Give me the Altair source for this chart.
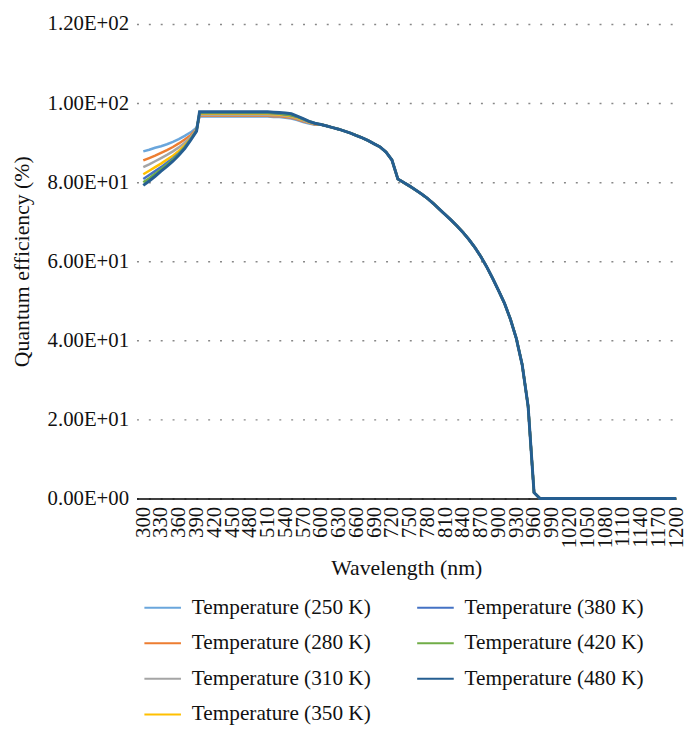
import altair as alt
import pandas as pd

# Wavelengths (nm) for the temperature-dependent part of the curves
wl_head = [300, 310, 320, 330, 340, 350, 360, 370, 380, 390, 395,
           400, 410, 420, 430, 440, 450, 460, 470, 480, 490,
           500, 510, 520, 530, 540, 550, 560, 570, 580, 590]

qe_250 = [87.8, 88.2, 88.7, 89.1, 89.6, 90.2, 90.9, 91.7, 92.6, 93.8, 96.6,
          96.6, 96.6, 96.6, 96.6, 96.6, 96.6, 96.6, 96.6, 96.6, 96.6,
          96.6, 96.6, 96.5, 96.5, 96.3, 96.1, 95.7, 95.2, 94.8, 94.5]
qe_280 = [85.5, 86.1, 86.7, 87.4, 88.1, 88.9, 89.8, 90.8, 91.9, 93.4, 96.8,
          96.8, 96.8, 96.8, 96.8, 96.8, 96.8, 96.8, 96.8, 96.8, 96.8,
          96.8, 96.8, 96.7, 96.7, 96.5, 96.3, 95.9, 95.4, 95.0, 94.6]
qe_310 = [83.8, 84.5, 85.3, 86.1, 86.9, 87.8, 88.8, 90.0, 91.4, 93.3, 97.0,
          97.0, 97.0, 97.0, 97.0, 97.0, 97.0, 97.0, 97.0, 97.0, 97.0,
          97.0, 97.0, 96.9, 96.9, 96.7, 96.5, 96.1, 95.6, 95.1, 94.7]
qe_350 = [82.0, 82.9, 83.8, 84.7, 85.7, 86.7, 87.9, 89.3, 91.0, 93.2, 97.3,
          97.3, 97.3, 97.3, 97.3, 97.3, 97.3, 97.3, 97.3, 97.3, 97.3,
          97.3, 97.3, 97.2, 97.1, 96.9, 96.7, 96.3, 95.8, 95.2, 94.8]
qe_380 = [80.8, 81.8, 82.8, 83.8, 84.9, 86.0, 87.3, 88.9, 90.9, 93.1, 97.5,
          97.5, 97.5, 97.5, 97.5, 97.5, 97.5, 97.5, 97.5, 97.5, 97.5,
          97.5, 97.5, 97.4, 97.3, 97.1, 96.9, 96.5, 95.9, 95.3, 94.8]
qe_420 = [80.0, 81.0, 82.1, 83.3, 84.5, 85.7, 87.1, 88.8, 90.8, 93.0, 97.6,
          97.6, 97.6, 97.6, 97.6, 97.6, 97.6, 97.6, 97.6, 97.6, 97.6,
          97.6, 97.6, 97.5, 97.4, 97.2, 97.0, 96.6, 96.0, 95.4, 94.9]
qe_480 = [79.2, 80.3, 81.5, 82.8, 84.0, 85.3, 86.8, 88.5, 90.6, 92.9, 97.8,
          97.8, 97.8, 97.8, 97.8, 97.8, 97.8, 97.8, 97.8, 97.8, 97.8,
          97.8, 97.8, 97.7, 97.6, 97.5, 97.3, 96.7, 96.1, 95.4, 94.9]

# Common tail (all temperatures overlap), 600..1200 nm
wl_tail = list(range(600, 1201, 10))
qe_tail = [94.6, 94.2, 93.8, 93.4, 92.9, 92.4, 91.8, 91.2, 90.5, 89.7,
           88.9, 87.6, 85.6, 80.8, 79.9, 79.0, 78.0, 77.0, 75.9, 74.6,
           73.2, 71.8, 70.4, 68.9, 67.3, 65.5, 63.5, 61.2, 58.6, 55.7,
           52.6, 49.4, 45.4, 40.5, 33.8, 23.3, 1.5,
           0, 0, 0, 0, 0, 0, 0, 0, 0, 0, 0, 0,
           0, 0, 0, 0, 0, 0, 0, 0, 0, 0, 0, 0]

series_names = ["Temperature (250 K)", "Temperature (280 K)", "Temperature (310 K)",
                "Temperature (350 K)", "Temperature (380 K)", "Temperature (420 K)",
                "Temperature (480 K)"]
series_vals = [qe_250, qe_280, qe_310, qe_350, qe_380, qe_420, qe_480]
series_colors = ["#6AA6DC", "#ED7D31", "#A5A5A5", "#FFC000", "#4472C4", "#70AD47", "#255E91"]
series_widths = [2.5, 2.5, 2.5, 2.5, 2.5, 2.5, 3]

rows = []
for name, vals in zip(series_names, series_vals):
    for w, v in zip(wl_head + wl_tail, vals + qe_tail):
        rows.append({"series": name, "wl": w, "qe": v})
df = pd.DataFrame(rows)

font = "Liberation Serif, Times New Roman, DejaVu Serif, serif"

color_scale = alt.Scale(domain=series_names, range=series_colors)

y_label_expr = ("datum.value == 0 ? '0.00E+00' : datum.value >= 100 ? "
                "format(datum.value/100, '.2f') + 'E+02' : format(datum.value/10, '.2f') + 'E+01'")

enc = dict(
    x=alt.X("wl:Q", title="Wavelength (nm)",
            scale=alt.Scale(domain=[288.5, 1200], nice=False, zero=False),
            axis=alt.Axis(values=list(range(300, 1201, 30)), format="d",
                          labelAngle=270, labelAlign="right", labelBaseline="middle",
                          labelPadding=8, ticks=False, grid=False, labelFlush=False,
                          domainColor="#000000", domainWidth=1.5,
                          labelFont=font, labelFontSize=21, labelColor="#111111",
                          titleFont=font, titleFontSize=22, titleFontWeight="normal",
                          titleColor="#111111", titlePadding=10, labelOverlap=False)),
    y=alt.Y("qe:Q", title="Quantum efficiency (%)",
            scale=alt.Scale(domain=[0, 120], nice=False),
            axis=alt.Axis(values=[0, 20, 40, 60, 80, 100, 120], labelExpr=y_label_expr,
                          domain=False, ticks=False, grid=True,
                          gridColor="#888888", gridDash=[2, 10], gridWidth=1.5,
                          labelPadding=8, labelFont=font, labelFontSize=21,
                          labelColor="#111111", titleFont=font, titleFontSize=22,
                          titleFontWeight="normal", titleColor="#111111", titlePadding=14)),
    color=alt.Color("series:N", scale=color_scale,
                    legend=alt.Legend(title=None, orient="none", legendX=7, legendY=571,
                                      columns=2, symbolType="stroke", symbolSize=1369,
                                      symbolStrokeWidth=2, labelOffset=10,
                                      labelFont=font, labelFontSize=21.5, labelColor="#111111",
                                      columnPadding=42, rowPadding=6, labelLimit=300)),
)

layers = [
    alt.Chart(df).mark_line(strokeWidth=sw).encode(**enc).transform_filter(alt.datum.series == name)
    for name, sw in zip(series_names, series_widths)
]

chart = alt.layer(*layers).properties(
    width=546, height=480,
    autosize=alt.AutoSizeParams(type="none"),
    padding={"left": 130, "top": 12, "right": 11, "bottom": 225},
).configure_view(stroke=None)

chart.save("out.html", embed_options={"renderer": "svg", "actions": False})
